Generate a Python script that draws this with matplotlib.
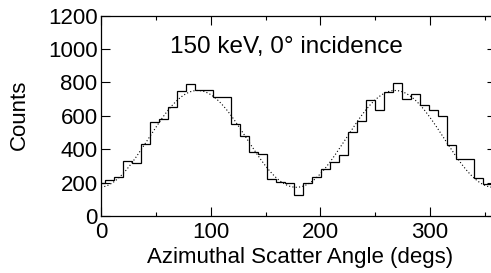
import numpy as np
import matplotlib
matplotlib.use("Agg")
import matplotlib.pyplot as plt
from matplotlib.ticker import MultipleLocator

# 44 bins of azimuthal scatter angle, bin 0 centred on 0 deg
counts = [200, 218, 234, 330, 316, 434, 562, 584, 652, 750, 792,
          756, 752, 714, 710, 552, 478, 384, 371, 220, 206, 196,
          126, 200, 236, 281, 326, 364, 502, 570, 694, 638, 744,
          796, 698, 728, 663, 636, 601, 426, 343, 343, 228, 190]
# modulation fit: mean + amp * cos(2 (phi - phase))
fit_mean = 462
fit_amp = 290
fit_phase = 88

title_txt = "150 keV, 0\u00b0 incidence"

plt.rcParams['font.family'] = ['Liberation Sans', 'DejaVu Sans']

nb = len(counts)
width = 360.0 / nb
edges = (np.arange(nb + 2) - 0.5) * width
vals = counts + [counts[0]]  # wrap-around bin past 360

fig = plt.figure(figsize=(4.91, 2.73), dpi=100)
ax = fig.add_axes([101 / 491, 1 - 216 / 273, 395 / 491, 200.3 / 273])

ax.stairs(vals, edges, color='black', lw=0.9)

phi = np.linspace(0, 360, 721)
fit = fit_mean + fit_amp * np.cos(np.radians(2 * (phi - fit_phase)))
ax.plot(phi, fit, color='black', lw=0.8, linestyle=(0, (1, 2)))

ax.text(0.47, 0.845, title_txt, transform=ax.transAxes, ha='center',
        va='center', fontsize=17.5)

ax.set_xlim(0, 360)
ax.set_ylim(0, 1200)
ax.xaxis.set_major_locator(MultipleLocator(100))
ax.xaxis.set_minor_locator(MultipleLocator(50))
ax.yaxis.set_major_locator(MultipleLocator(200))
ax.tick_params(which='both', direction='in', top=True, right=True,
               labelsize=16, width=0.8)
ax.tick_params(axis='x', pad=4)
ax.tick_params(axis='y', pad=2.5)
ax.tick_params(which='major', length=6.5)
ax.tick_params(which='minor', length=3)
for s in ax.spines.values():
    s.set_linewidth(0.9)

ax.set_xlabel("Azimuthal Scatter Angle (degs)", fontsize=16)
ax.set_ylabel("Counts", fontsize=16)
ax.xaxis.set_label_coords(0.504, -0.155)
ax.yaxis.set_label_coords(-0.18, 0.504)

fig.savefig("out.png", dpi=100)
